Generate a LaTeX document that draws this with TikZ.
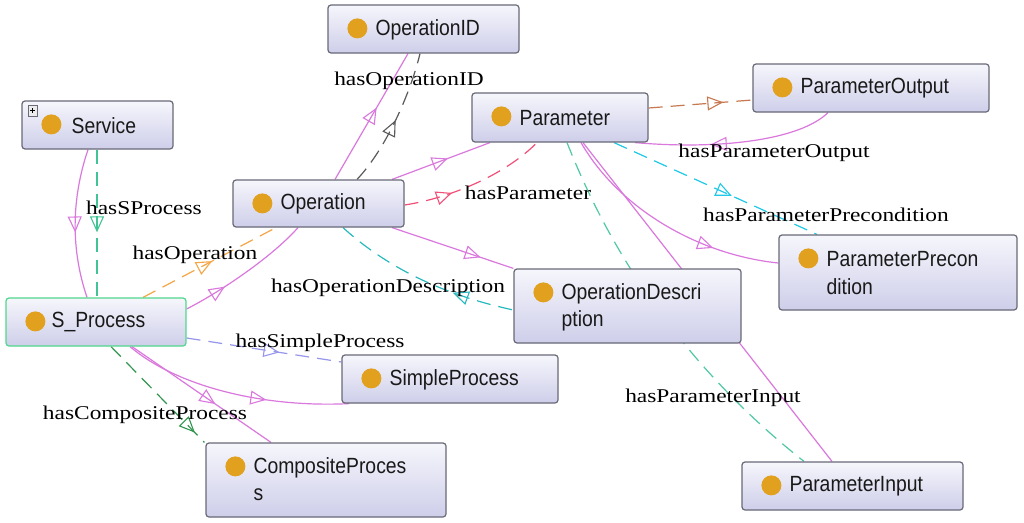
\documentclass[tikz,border=0pt]{standalone}
\usepackage{fontspec}
\newfontfamily\clsfont{Liberation Sans}[FakeStretch=0.88]
\newfontfamily\lblfont{Liberation Serif}[FakeStretch=1.2]
\usetikzlibrary{arrows.meta,decorations.markings,calc,backgrounds}
\definecolor{subc}{RGB}{218,120,222}
\definecolor{greenS}{RGB}{64,196,150}
\definecolor{orangeC}{RGB}{245,165,70}
\definecolor{grayC}{RGB}{90,90,90}
\definecolor{redpink}{RGB}{240,80,120}
\definecolor{brownC}{RGB}{200,120,80}
\definecolor{cyanC}{RGB}{30,200,230}
\definecolor{tealC}{RGB}{40,185,190}
\definecolor{mintC}{RGB}{80,200,165}
\definecolor{lavC}{RGB}{150,150,235}
\definecolor{dgreenC}{RGB}{50,150,80}
\definecolor{dotc}{RGB}{225,160,30}
\definecolor{boxtop}{RGB}{246,246,252}
\definecolor{boxbot}{RGB}{206,206,234}
\definecolor{boxline}{RGB}{105,105,120}
\definecolor{selline}{RGB}{80,215,140}
\tikzset{
  clsbox/.style={draw=boxline, line width=1.2pt, rounded corners=3pt, top color=boxtop, bottom color=boxbot, inner sep=0pt},
  ctext/.style={font=\clsfont\fontsize{22}{25}\selectfont, anchor=west, inner sep=0pt, text={rgb,255:red,25;green,25;blue,25}},
  elabel/.style={font=\lblfont\fontsize{19.5}{22}\selectfont, inner sep=0pt, text=black},
  edge/.style={line width=1.2pt},
  dashedge/.style={line width=1.2pt, dash pattern=on 14pt off 8pt},
  midarr/.style={postaction={decorate,decoration={markings,mark=at position #1 with {\arrow{Triangle[open,length=16pt,width=14pt,line width=1.1pt]}}}}},
  midarrr/.style={postaction={decorate,decoration={markings,mark=at position #1 with {\arrowreversed{Triangle[open,length=16pt,width=14pt,line width=1.1pt]}}}}}
}
\newcommand\clsnode[6]{\node[clsbox,#6,minimum width=#4pt,minimum height=#5pt] (#1) at (#2,#3) {};
  \fill[dotc] ($(#1.north west)+(30,24)$) circle (10pt);}
\begin{document}
\begin{tikzpicture}[x=1pt,y=-1pt]
\useasboundingbox (0,0) rectangle (1024,522);
% class boxes
\clsnode{OperationID}{423.5}{29}{191}{48}{}
\node[ctext] (OperationIDt) at ($(OperationID.north west)+(48,25)$) {OperationID};
\clsnode{Service}{97.5}{125}{151}{48}{}
\node[ctext] (Servicet) at ($(Service.north west)+(50,25)$) {Service};
\draw[boxline, fill=white!85!gray, line width=0.8pt] ($(Service.north west)+(7,5)$) rectangle ($(Service.north west)+(16,16)$);
\draw[black, line width=1pt] ($(Service.north west)+(9,10.5)$) -- ($(Service.north west)+(14,10.5)$) ($(Service.north west)+(11.5,8)$) -- ($(Service.north west)+(11.5,13)$);
\clsnode{Operation}{318.5}{203.5}{171}{47}{}
\node[ctext] (Operationt) at ($(Operation.north west)+(48,24.5)$) {Operation};
\clsnode{Parameter}{560}{117.5}{176}{49}{}
\node[ctext] (Parametert) at ($(Parameter.north west)+(48,25.5)$) {Parameter};
\clsnode{ParameterOutput}{871}{88}{236}{48}{}
\node[ctext] (ParameterOutputt) at ($(ParameterOutput.north west)+(48,25)$) {ParameterOutput};
\clsnode{ParameterPrecondition}{898}{272.5}{238}{75}{}
\node[ctext] (ParameterPreconditiont) at ($(ParameterPrecondition.north west)+(48,25)$) {ParameterPrecon};
\node[ctext] (ParameterPreconditionu) at ($(ParameterPrecondition.north west)+(48,52)$) {dition};
\clsnode{OperationDescription}{627.5}{306}{227}{74}{}
\node[ctext] (OperationDescriptiont) at ($(OperationDescription.north west)+(48,25)$) {OperationDescri};
\node[ctext] (OperationDescriptionu) at ($(OperationDescription.north west)+(48,52)$) {ption};
\clsnode{SProcess}{96}{322}{180}{48}{draw=selline}
\node[ctext] (SProcesst) at ($(SProcess.north west)+(46,25)$) {S\_Process};
\clsnode{SimpleProcess}{450}{379}{216}{48}{}
\node[ctext] (SimpleProcesst) at ($(SimpleProcess.north west)+(48,25)$) {SimpleProcess};
\clsnode{CompositeProcess}{326}{480}{240}{74}{}
\node[ctext] (CompositeProcesst) at ($(CompositeProcess.north west)+(48,25)$) {CompositeProces};
\node[ctext] (CompositeProcessu) at ($(CompositeProcess.north west)+(48,52)$) {s};
\clsnode{ParameterInput}{852.5}{486}{221}{48}{}
\node[ctext] (ParameterInputt) at ($(ParameterInput.north west)+(48,25)$) {ParameterInput};

\begin{pgfonlayer}{background}
\fill[white] (0,0) rectangle (1024,522);
% Service -> S_Process (subclass)
\draw[edge,subc,midarr=0.56] ($(Service.south)+(-9.5,0)$) .. controls (71,200) and (71,250) .. ($(SProcess.north)+(-9,0)$);
% hasSProcess
\draw[dashedge,greenS,midarr=0.56] ($(Service.south)+(-0.5,0)$) -- ($(SProcess.north)+(1,0)$);
% hasOperation
\draw[dashedge,orangeC,midarr=0.52] ($(SProcess.north)+(47,0)$) -- ($(Operation.south)+(-42.5,0)$);
% S_Process -> Operation (subclass)
\draw[edge,subc,midarr=0.32] ($(SProcess.east)+(0,-13)$) .. controls (220,292) and (272,257) .. ($(Operation.south)+(-20.5,0)$);
% Operation -> OperationID
\draw[edge,subc,midarr=0.57] ($(Operation.north)+(16.5,0)$) -- ($(OperationID.south)+(-15.5,0)$);
% hasOperationID
\draw[dashedge,grayC,midarr=0.5] ($(Operation.north)+(38.5,0)$) .. controls (385,150) and (410,95) .. ($(OperationID.south)+(-3.5,0)$);
% Operation -> Parameter
\draw[edge,subc,midarr=0.57] ($(Operation.north)+(73.5,0)$) -- ($(Parameter.south)+(-70,0)$);
% hasParameter
\draw[dashedge,redpink,midarr=0.33] ($(Operation.east)+(0,1.5)$) .. controls (450,198) and (505,175) .. ($(Parameter.south)+(-23,0)$);
% hasParameterOutput
\draw[dashedge,brownC,midarr=0.72] ($(Parameter.east)+(0,-9.5)$) -- ($(ParameterOutput.west)+(0,12)$);
% ParameterOutput -> Parameter
\draw[edge,subc,midarr=0.62] ($(ParameterOutput.south)+(-43,0)$) .. controls (800,140) and (720,150) .. ($(Parameter.south)+(75,0)$);
% hasParameterPrecondition
\draw[dashedge,cyanC,midarr=0.58] ($(Parameter.south)+(54,0)$) -- ($(ParameterPrecondition.north)+(-81,0)$);
% Parameter -> ParameterPrecondition
\draw[edge,subc,midarr=0.72] ($(Parameter.south)+(21,0)$) .. controls (620,210) and (700,255) .. ($(ParameterPrecondition.west)+(0,-9.5)$);
% Parameter -> ParameterInput
\draw[edge,subc,midarr=0.5] ($(Parameter.south)+(23,0)$) -- ($(ParameterInput.north)+(-20.5,0)$);
% hasParameterInput
\draw[dashedge,mintC,midarr=0.58] ($(Parameter.south)+(7,0)$) .. controls (590,200) and (650,340) .. ($(ParameterInput.north)+(-48.5,0)$);
% Operation -> OperationDescription
\draw[edge,subc,midarr=0.73] ($(Operation.south)+(73.5,0)$) -- (OperationDescription.north west);
% hasOperationDescription
\draw[dashedge,tealC,midarrr=0.67] ($(Operation.south)+(24.5,0)$) .. controls (393,273) and (453,297) .. ($(OperationDescription.west)+(0,4)$);
% hasSimpleProcess
\draw[dashedge,lavC,midarr=0.6] ($(SProcess.east)+(0,16)$) -- ($(SimpleProcess.west)+(0,-17)$);
% S_Process -> SimpleProcess
\draw[edge,subc,midarr=0.64] ($(SProcess.south)+(34,0)$) .. controls (175,385) and (260,408) .. ($(SimpleProcess.south west)+(8,0)$);
% S_Process -> CompositeProcess
\draw[edge,subc,midarr=0.6] ($(SProcess.south)+(36,0)$) -- ($(CompositeProcess.north)+(-55,0)$);
% hasCompositeProcess
\draw[dashedge,dgreenC,midarr=0.9] ($(SProcess.south)+(15,0)$) -- ($(CompositeProcess.north west)+(-1,0)$);
\end{pgfonlayer}

% edge labels
\node[elabel] (lOpID) at (409,81) {hasOperationID};
\node[elabel] (lSProc) at (144,208) {hasSProcess};
\node[elabel] (lOp) at (195,255) {hasOperation};
\node[elabel] (lPar) at (528,193) {hasParameter};
\node[elabel] (lParOut) at (774,153) {hasParameterOutput};
\node[elabel] (lParPre) at (826,215) {hasParameterPrecondition};
\node[elabel] (lOpDesc) at (388,288) {hasOperationDescription};
\node[elabel] (lSimple) at (320,343) {hasSimpleProcess};
\node[elabel] (lComp) at (145,415) {hasCompositeProcess};
\node[elabel] (lParIn) at (713,398) {hasParameterInput};
\end{tikzpicture}
\end{document}
